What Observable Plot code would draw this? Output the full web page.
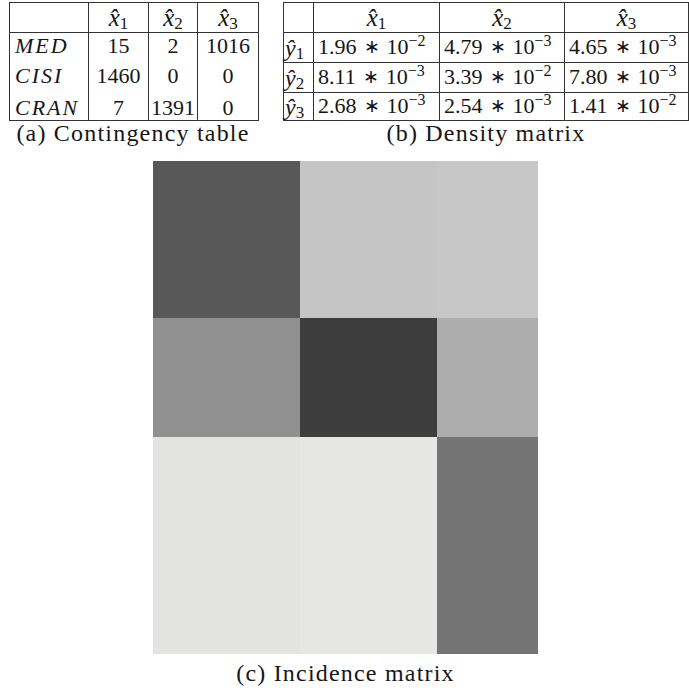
<!DOCTYPE html>
<html><head><meta charset="utf-8">
<script src="https://cdn.jsdelivr.net/npm/d3@7"></script>
<script src="https://cdn.jsdelivr.net/npm/@observablehq/plot@0.6"></script>
<style>
body{margin:0;background:#fff;}
#fig{position:relative;width:689px;height:695px;font-family:"Liberation Serif",serif;color:#161616;overflow:hidden;}
table{position:absolute;border-collapse:collapse;table-layout:fixed;font-size:22px;}
td{padding:0;border:0 solid #333;white-space:nowrap;vertical-align:middle;line-height:20px;}
.lab{font-style:italic;text-align:left;padding-left:5px;letter-spacing:2px;}
.num{text-align:center;}
.dens{text-align:left;padding-left:4px;}
.hat{text-align:center;font-size:25px;line-height:20px;}
.yl{text-align:left;padding-left:1px;font-size:24px;}
sub{font-size:17px;vertical-align:-3px;font-style:normal;line-height:0;}
sup{font-size:16px;vertical-align:8px;line-height:0;}
.op{margin:0 7px;font-size:19px;position:relative;top:-1px;}
.up{position:relative;top:-1px;}
.dn{position:relative;top:3px;}
.cap{position:absolute;font-size:24px;line-height:24px;text-align:center;letter-spacing:1.2px;white-space:nowrap;}
#plot{position:absolute;left:0;top:150px;}
</style></head><body><div id="fig"><div id="plot"></div></div>
<script>
// ---- data ----
const docClusterIds = [1, 2, 3];               // x̂1, x̂2, x̂3
const wordClusterIds = [1, 2, 3];              // ŷ1, ŷ2, ŷ3
const classes = ["MED", "CISI", "CRAN"];
const contingency = [
  [15, 2, 1016],
  [1460, 0, 0],
  [7, 1391, 0]
];
const density = [
  [1.96e-2, 4.79e-3, 4.65e-3],
  [8.11e-3, 3.39e-2, 7.80e-3],
  [2.68e-3, 2.54e-3, 1.41e-2]
];
// estimated share (%) of words in each word cluster (row heights of the incidence matrix)
const wordClusterShare = [31.8, 24.1, 44.1];
const captions = ["(a) Contingency table", "(b) Density matrix", "(c) Incidence matrix"];

const fig = document.getElementById("fig");
const hatX = k => `<i>x̂</i><sub>${k}</sub>`;
const hatY = k => `<i>ŷ</i><sub>${k}</sub>`;
function fmt(v) {
  const [m, e] = v.toExponential(2).split("e");
  return `${m}<span class="op">∗</span>10<sup>${e.replace("-", "−")}</sup>`;
}

// ---- table (a) ----
{
  const t = document.createElement("table");
  t.style.left = "9px"; t.style.top = "2px"; t.style.width = "249px";
  const widths = [79, 60, 49, 61];
  let h = "<colgroup>" + widths.map(w => `<col style="width:${w}px">`).join("") + "</colgroup>";
  const b = "1px";
  h += `<tr style="height:30px"><td style="border-width:${b}"></td>` +
    docClusterIds.map(k => `<td class="hat" style="border-width:${b}">${hatX(k)}</td>`).join("") + "</tr>";
  classes.forEach((c, i) => {
    const last = i === classes.length - 1;
    const bb = last ? b : "0";
    const shift = i === 0 ? "up" : (last ? "dn" : "");
    h += `<tr style="height:29.3px"><td class="lab" style="border-width:0 ${b} ${bb} ${b}"><span class="${shift}">${c}</span></td>` +
      contingency[i].map(v => `<td class="num" style="border-width:0 ${b} ${bb} ${b}"><span class="${shift}">${v}</span></td>`).join("") + "</tr>";
  });
  t.innerHTML = h;
  fig.appendChild(t);
}
// ---- table (b) ----
{
  const t = document.createElement("table");
  t.style.left = "283px"; t.style.top = "2px"; t.style.width = "405px";
  const widths = [30, 126, 125, 124];
  let h = "<colgroup>" + widths.map(w => `<col style="width:${w}px">`).join("") + "</colgroup>";
  h += `<tr style="height:30px"><td style="border-width:1px"></td>` +
    docClusterIds.map(k => `<td class="hat" style="border-width:1px">${hatX(k)}</td>`).join("") + "</tr>";
  wordClusterIds.forEach((k, i) => {
    h += `<tr style="height:${i === 2 ? 28 : 30}px"><td class="yl" style="border-width:1px">${hatY(k)}</td>` +
      density[i].map(v => `<td class="dens" style="border-width:1px">${fmt(v)}</td>`).join("") + "</tr>";
  });
  t.innerHTML = h;
  fig.appendChild(t);
}
// ---- captions ----
[[133, 121], [486, 121], [345.5, 661]].forEach(([cx, top], i) => {
  const d = document.createElement("div");
  d.className = "cap";
  d.style.left = (cx - 200) + "px"; d.style.width = "400px"; d.style.top = top + "px";
  d.textContent = captions[i];
  fig.appendChild(d);
});

// ---- incidence matrix (Plot) ----
const colSizes = docClusterIds.map((_, j) => d3.sum(contingency, r => r[j]));
const colEnd = Array.from(d3.cumsum(colSizes));
const rowEnd = Array.from(d3.cumsum(wordClusterShare));
const cells = [];
wordClusterIds.forEach((_, i) => docClusterIds.forEach((_, j) => {
  cells.push({
    x1: colEnd[j] - colSizes[j], x2: colEnd[j],
    y1: rowEnd[i] - wordClusterShare[i], y2: rowEnd[i],
    density: density[i][j]
  });
}));
const sortedDensity = d3.sort(density.flat());
const chart = Plot.plot({
  width: 689, height: 545,
  marginLeft: 153, marginRight: 151, marginTop: 11, marginBottom: 41,
  x: {axis: null, domain: [0, d3.sum(colSizes)]},
  y: {axis: null, domain: [0, d3.sum(wordClusterShare)], reverse: true},
  color: {
    type: "linear", domain: sortedDensity, interpolate: "rgb",
    range: ["#e6e6e4", "#e3e3e1", "#c7c7c7", "#c5c5c5", "#adadad", "#909090", "#747474", "#585858", "#3d3d3d"]
  },
  marks: [
    Plot.rect(cells, {x1: "x1", x2: "x2", y1: "y1", y2: "y2", fill: "density", shapeRendering: "crispEdges"})
  ]
});
document.getElementById("plot").appendChild(chart);
</script>
</body></html>
